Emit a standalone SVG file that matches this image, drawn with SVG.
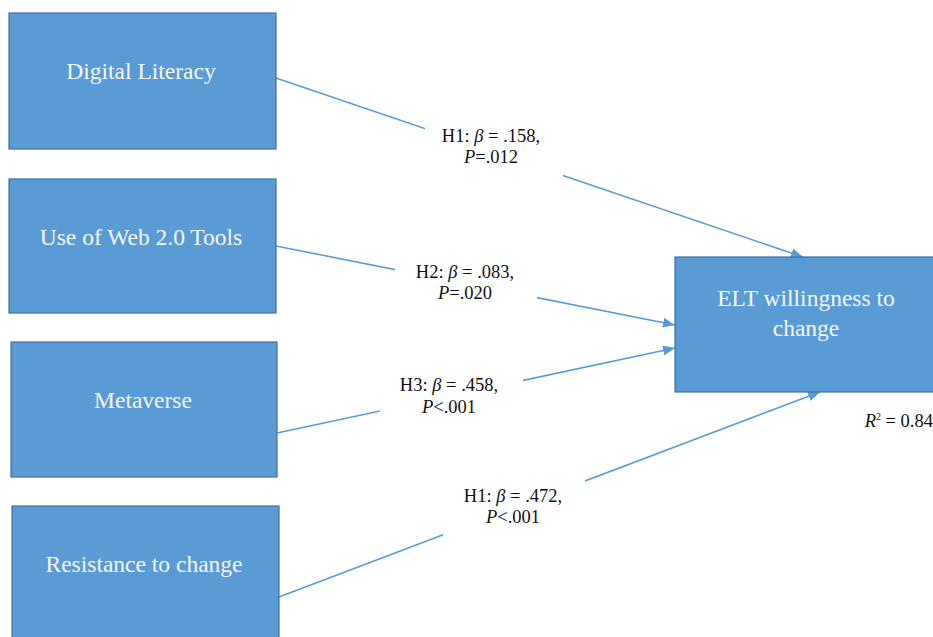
<svg xmlns="http://www.w3.org/2000/svg" width="933" height="637" viewBox="0 0 933 637">
<style>
.box{fill:#5b9bd5;stroke:#41719c;stroke-width:1.2}
.bt{font-family:'Liberation Serif','DejaVu Serif',serif;font-size:23.5px;fill:#f4f6fa;text-anchor:middle}
.lt{font-family:'Liberation Serif','DejaVu Serif',serif;font-size:18.5px;fill:#111;text-anchor:middle}
.conn{stroke:#5b9bd5;stroke-width:1.6;fill:none}
.bg{fill:#fff}
</style>
<defs>
<marker id="arr" viewBox="0 0 12 10" refX="12" refY="5" markerWidth="12" markerHeight="10" markerUnits="userSpaceOnUse" orient="auto">
<path d="M0,0 L12,5 L0,10 Z" fill="#5b9bd5"/>
</marker>
</defs>
<rect width="933" height="637" fill="#fff"/>
<g id="connectors">
<line class="conn" x1="276" y1="78" x2="803" y2="257" marker-end="url(#arr)"/>
<line class="conn" x1="276" y1="246" x2="675" y2="325" marker-end="url(#arr)"/>
<line class="conn" x1="277" y1="433" x2="675" y2="348" marker-end="url(#arr)"/>
<line class="conn" x1="279" y1="597" x2="820" y2="392" marker-end="url(#arr)"/>
</g>
<g id="label-h1a">
<rect class="bg" x="425" y="118" width="138" height="62"/>
<text class="lt" x="491" y="142">H1: <tspan font-style="italic">β</tspan> = .158,</text>
<text class="lt" x="491" y="163"><tspan font-style="italic">P</tspan>=.012</text>
</g>
<g id="label-h2">
<rect class="bg" x="395" y="258" width="142" height="48"/>
<text class="lt" x="465" y="278">H2: <tspan font-style="italic">β</tspan> = .083,</text>
<text class="lt" x="465" y="299"><tspan font-style="italic">P</tspan>=.020</text>
</g>
<g id="label-h3">
<rect class="bg" x="380" y="372" width="143" height="48"/>
<text class="lt" x="449" y="391">H3: <tspan font-style="italic">β</tspan> = .458,</text>
<text class="lt" x="449" y="413"><tspan font-style="italic">P</tspan>&lt;.001</text>
</g>
<g id="label-h1b">
<rect class="bg" x="443" y="475" width="142" height="64"/>
<text class="lt" x="513" y="502">H1: <tspan font-style="italic">β</tspan> = .472,</text>
<text class="lt" x="513" y="523"><tspan font-style="italic">P</tspan>&lt;.001</text>
</g>
<g id="node-digital-literacy">
<rect class="box" x="9" y="13" width="267" height="136"/>
<text class="bt" x="141" y="79">Digital Literacy</text>
</g>
<g id="node-web20">
<rect class="box" x="9" y="179" width="267" height="134"/>
<text class="bt" x="141" y="245">Use of Web 2.0 Tools</text>
</g>
<g id="node-metaverse">
<rect class="box" x="11" y="342" width="266" height="135"/>
<text class="bt" x="143" y="408">Metaverse</text>
</g>
<g id="node-resistance">
<rect class="box" x="12" y="506" width="267" height="140"/>
<text class="bt" x="144" y="572">Resistance to change</text>
</g>
<g id="node-elt">
<rect class="box" x="675" y="257" width="270" height="135"/>
<text class="bt" x="806" y="306">ELT willingness to</text>
<text class="bt" x="806" y="336">change</text>
</g>
<g id="r2">
<text class="lt" x="933" y="427" style="text-anchor:end"><tspan font-style="italic">R</tspan><tspan font-size="10" dy="-7">2</tspan><tspan dy="7"> = 0.84</tspan></text>
</g>
</svg>
